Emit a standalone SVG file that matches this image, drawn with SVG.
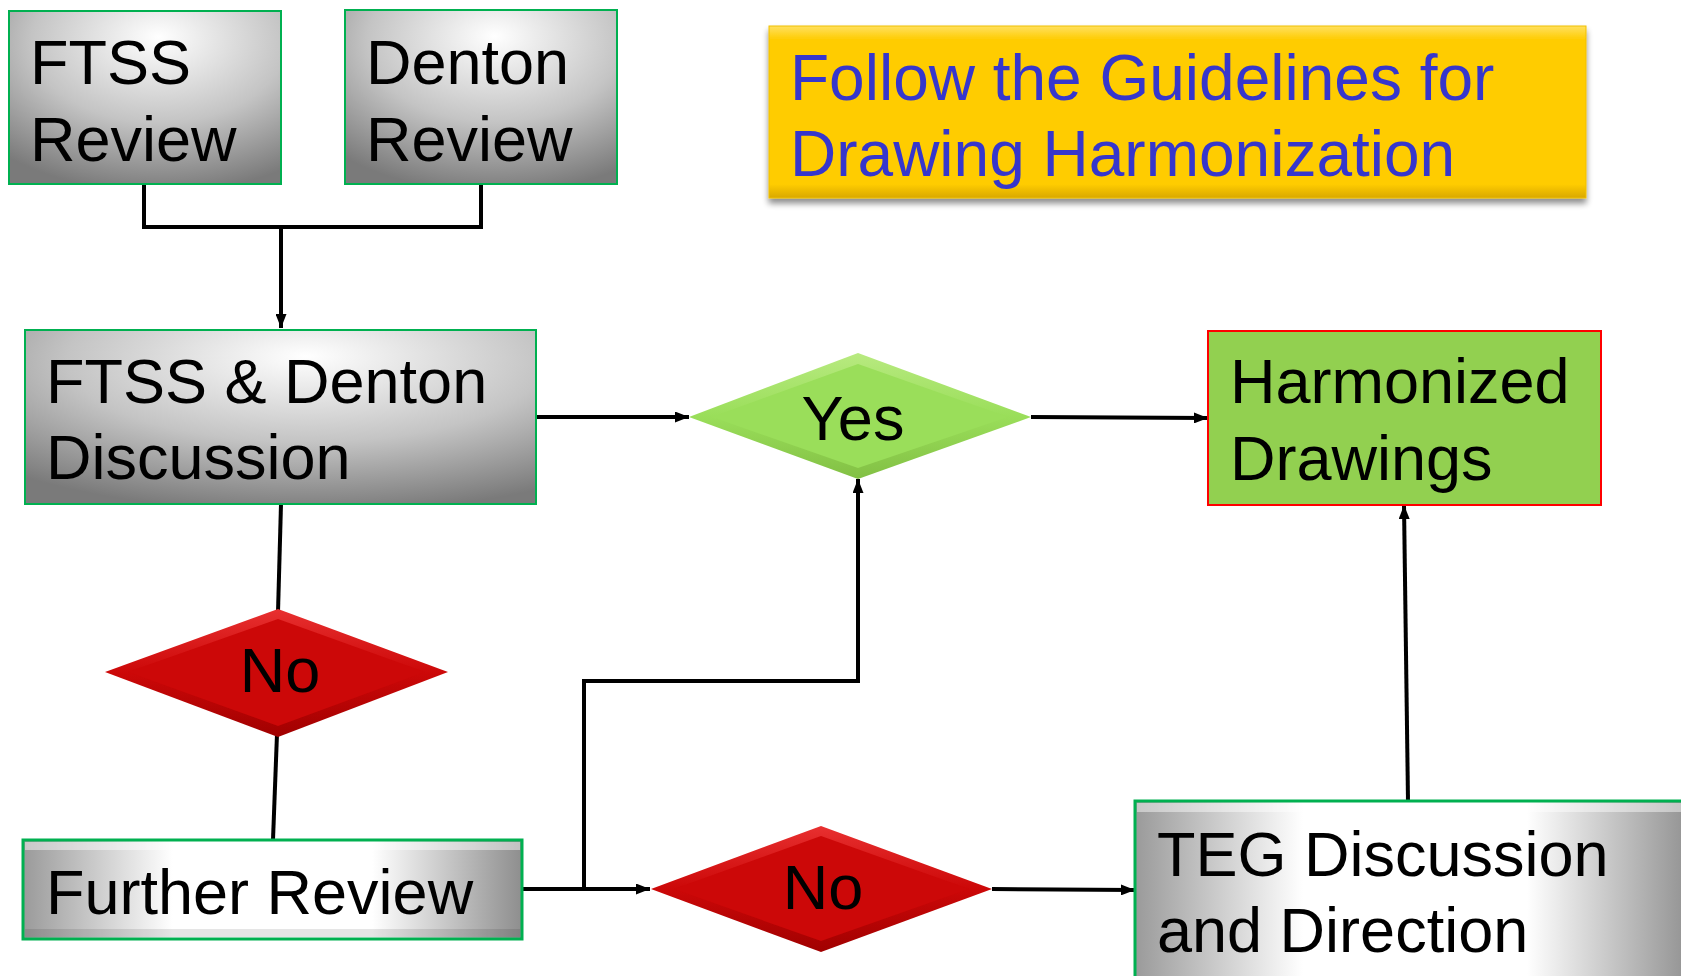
<svg xmlns="http://www.w3.org/2000/svg" width="1681" height="976" viewBox="0 0 1681 976">
<defs>
<radialGradient id="gGray" cx="0.55" cy="0.2" r="0.85" fx="0.55" fy="0.15">
<stop offset="0" stop-color="#ffffff"/>
<stop offset="0.55" stop-color="#c4c4c4"/>
<stop offset="1" stop-color="#7a7a7a"/>
</radialGradient>
<linearGradient id="gBevelH" x1="0" y1="0" x2="1" y2="0">
<stop offset="0" stop-color="#9a9a9a"/>
<stop offset="0.3" stop-color="#ffffff"/>
<stop offset="0.7" stop-color="#ffffff"/>
<stop offset="1" stop-color="#8e8e8e"/>
</linearGradient>
<linearGradient id="gRed" x1="0" y1="0" x2="0" y2="1">
<stop offset="0" stop-color="#e83030"/>
<stop offset="0.5" stop-color="#cc0808"/>
<stop offset="1" stop-color="#a00000"/>
</linearGradient>
<linearGradient id="gGreen" x1="0" y1="0" x2="0" y2="1">
<stop offset="0" stop-color="#b8ea80"/>
<stop offset="0.5" stop-color="#9ade5a"/>
<stop offset="1" stop-color="#82c044"/>
</linearGradient>
<linearGradient id="gYellow" x1="0" y1="0" x2="0" y2="1">
<stop offset="0" stop-color="#ffe060"/>
<stop offset="0.08" stop-color="#ffcc00"/>
<stop offset="0.92" stop-color="#ffcc00"/>
<stop offset="1" stop-color="#d9a800"/>
</linearGradient>
<filter id="shadow" x="-5%" y="-10%" width="110%" height="130%">
<feGaussianBlur in="SourceAlpha" stdDeviation="3"/>
<feOffset dx="0" dy="5" result="b"/>
<feComponentTransfer><feFuncA type="linear" slope="0.45"/></feComponentTransfer>
<feMerge><feMergeNode/><feMergeNode in="SourceGraphic"/></feMerge>
</filter>
<marker id="arr" viewBox="0 0 14 11" refX="14" refY="5.5" markerWidth="14" markerHeight="11" markerUnits="userSpaceOnUse" orient="auto">
<path d="M0,0 L14,5.5 L0,11 z" fill="#000"/>
</marker>
</defs>
<style>
.t{font-family:"Liberation Sans",Arial,sans-serif;font-size:63px;fill:#000}
.tb{font-family:"Liberation Sans",Arial,sans-serif;font-size:64px;fill:#3636cc}
.box{fill:url(#gGray);stroke:#00b050;stroke-width:2}
.bev{fill:url(#gBevelH);stroke:#00b050;stroke-width:3}
.c{fill:none;stroke:#000;stroke-width:4}
</style>
<rect width="1681" height="976" fill="#fff"/>

<g id="connectors">
<path class="c" d="M144,184 V227 H481 V184"/>
<path class="c" d="M281,227 V328" marker-end="url(#arr)"/>
<path class="c" d="M536,417 H689" marker-end="url(#arr)"/>
<path class="c" d="M1031,417 L1208,418" marker-end="url(#arr)"/>
<path class="c" d="M281,504 L278,612"/>
<path class="c" d="M277,734 L273,840"/>
<path class="c" d="M522,889 H650" marker-end="url(#arr)"/>
<path class="c" d="M584,889 V681 H858 V479" marker-end="url(#arr)"/>
<path class="c" d="M992,889 L1135,890" marker-end="url(#arr)"/>
<path class="c" d="M1408,801 L1404,505" marker-end="url(#arr)"/>
</g>

<g id="ftss-review">
<rect class="box" x="9" y="11" width="272" height="173"/>
<text class="t" x="30" y="84">FTSS</text>
<text class="t" x="30" y="161">Review</text>
</g>

<g id="denton-review">
<rect class="box" x="345" y="10" width="272" height="174"/>
<text class="t" x="366" y="84">Denton</text>
<text class="t" x="366" y="161">Review</text>
</g>

<g id="guidelines">
<rect x="769" y="26" width="817" height="172" fill="url(#gYellow)" stroke="#f0c000" stroke-width="1" filter="url(#shadow)"/>
<text class="tb" x="790" y="100">Follow the Guidelines for</text>
<text class="tb" x="790" y="176">Drawing Harmonization</text>
</g>

<g id="discussion">
<rect class="box" x="25" y="330" width="511" height="174"/>
<text class="t" x="46" y="403">FTSS &amp; Denton</text>
<text class="t" x="46" y="479">Discussion</text>
</g>

<g id="yes">
<polygon points="689,417 858,353 1031,417 858,479" fill="url(#gGreen)"/>
<polygon points="712,417 858,364 1008,417 858,468" fill="#9ade5a"/>
<text class="t" x="853" y="440" text-anchor="middle">Yes</text>
</g>

<g id="harmonized">
<rect x="1208" y="331" width="393" height="174" fill="#92d050" stroke="#ff0000" stroke-width="2"/>
<text class="t" x="1230" y="403">Harmonized</text>
<text class="t" x="1230" y="480">Drawings</text>
</g>

<g id="no1">
<polygon points="105,672 278,609 448,672 278,737" fill="url(#gRed)"/>
<polygon points="128,672 278,619 425,672 278,726" fill="#cc0808"/>
<text class="t" x="280" y="692" text-anchor="middle">No</text>
</g>

<g id="further-review">
<rect class="bev" x="23" y="840" width="499" height="99"/>
<rect x="25" y="842" width="495" height="8" fill="#ffffff" opacity="0.45"/>
<rect x="25" y="929" width="495" height="8" fill="#000" opacity="0.1"/>
<text class="t" x="46" y="914">Further Review</text>
</g>

<g id="no2">
<polygon points="651,889 821,826 992,889 821,952" fill="url(#gRed)"/>
<polygon points="674,889 821,836 969,889 821,941" fill="#cc0808"/>
<text class="t" x="823" y="909" text-anchor="middle">No</text>
</g>

<g id="teg">
<rect class="bev" x="1135" y="801" width="560" height="190"/>
<rect x="1137" y="803" width="560" height="9" fill="#ffffff" opacity="0.45"/>
<text class="t" x="1157" y="876">TEG Discussion</text>
<text class="t" x="1157" y="952">and Direction</text>
</g>
</svg>
